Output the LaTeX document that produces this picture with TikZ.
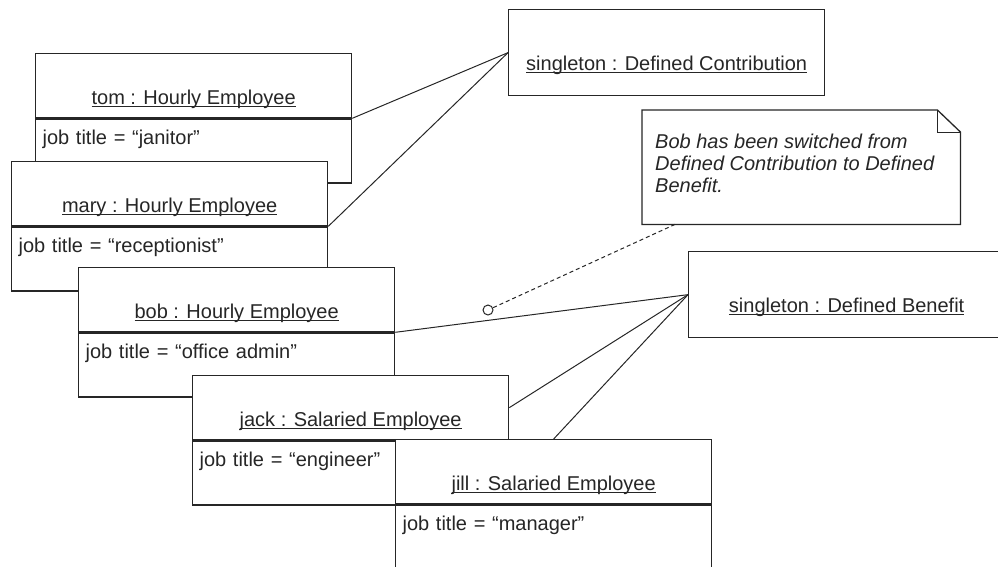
\documentclass[tikz,border=0pt]{standalone}
\usepackage{fontspec}
\setmainfont{Liberation Sans}
\usetikzlibrary{positioning}

% underlined object name, rule close under the baseline
\newcommand{\uname}[1]{\setbox0\hbox{#1}\rlap{\rule[-2.4pt]{\wd0}{1.1pt}}\box0}

\begin{document}
\begin{tikzpicture}[x=1pt, y=-1pt, line join=miter, font=\fontsize{20}{22}\selectfont, text=black!85]
	\tikzset{
		objhead/.style={draw=black!85, fill=white, line width=1.3pt, anchor=north west,
			minimum width=316pt, minimum height=64pt, inner sep=0pt, text height=38pt, text depth=0pt},
		objattr/.style={draw=black!85, fill=white, line width=1.3pt,
			minimum width=316pt, minimum height=64pt, inner xsep=7pt, inner ysep=0pt,
			text width=302pt, align=left, text height=0pt, text depth=12pt},
		single/.style={draw=black!85, fill=white, line width=1.3pt, anchor=north west,
			minimum width=316pt, minimum height=86pt, inner sep=0pt, text height=36pt, text depth=0pt},
		link/.style={draw=black!85, line width=1pt},
		notelink/.style={draw=black!85, line width=1pt, dash pattern=on 4pt off 3pt}
	}
	\useasboundingbox (0,0) rectangle (998,566);

	% employees, each one laid over the one before
	\node[objhead] (tom) at (35,53) {\uname{tom : Hourly Employee}};
	\node[objattr, below=0pt of tom] (tom-a) {job title = “janitor”};
	\node[objhead] (mary) at (11,161) {\uname{mary : Hourly Employee}};
	\node[objattr, below=0pt of mary] (mary-a) {job title = “receptionist”};
	\node[objhead] (bob) at (78,267) {\uname{bob : Hourly Employee}};
	\node[objattr, below=0pt of bob] (bob-a) {job title = “office admin”};
	\node[objhead] (jack) at (192,375) {\uname{jack : Salaried Employee}};
	\node[objattr, below=0pt of jack] (jack-a) {job title = “engineer”};
	\node[objhead] (jill) at (395,439) {\uname{jill : Salaried Employee}};
	\node[objattr, below=0pt of jill] (jill-a) {job title = “manager”};

	% plans
	\node[single] (dc) at (508,9) {\uname{singleton : Defined Contribution}};
	\node[single] (db) at (688,251) {\uname{singleton : Defined Benefit}};

	% note with folded corner
	\node[minimum width=318pt, minimum height=114pt, anchor=north west, inner sep=0pt] (note) at (642,110) {};
	\draw[draw=black!85, line width=1.3pt, fill=white] (note.north west) -- ([xshift=-23pt]note.north east)
		-- ([yshift=-22pt]note.north east) -- (note.south east) -- (note.south west) -- cycle;
	\draw[draw=black!85, line width=1pt] ([xshift=-23pt]note.north east) |- ([yshift=-22pt]note.north east);
	\node[anchor=north west, inner sep=0pt, align=left, font=\fontsize{20}{22}\selectfont\itshape] (notetext) at (655,133.5)
		{Bob has been switched from\\Defined Contribution to Defined\\Benefit.};
	\coordinate (notefoot) at ([xshift=33pt]note.south west);
	\node[circle, draw=black!85, fill=white, line width=1pt, inner sep=0pt, minimum size=10pt] (knot) at (488,310) {};

	% links
	\draw[link] (tom.south east) -- (dc.west);
	\draw[link] (mary.south east) -- (dc.west);
	\draw[link] (bob.south east) -- (db.west);
	\draw[link] (jack.east) -- (db.west);
	\draw[link] (jill.north) -- (db.west);
	\draw[notelink] (notefoot) -- (knot);
\end{tikzpicture}
\end{document}
